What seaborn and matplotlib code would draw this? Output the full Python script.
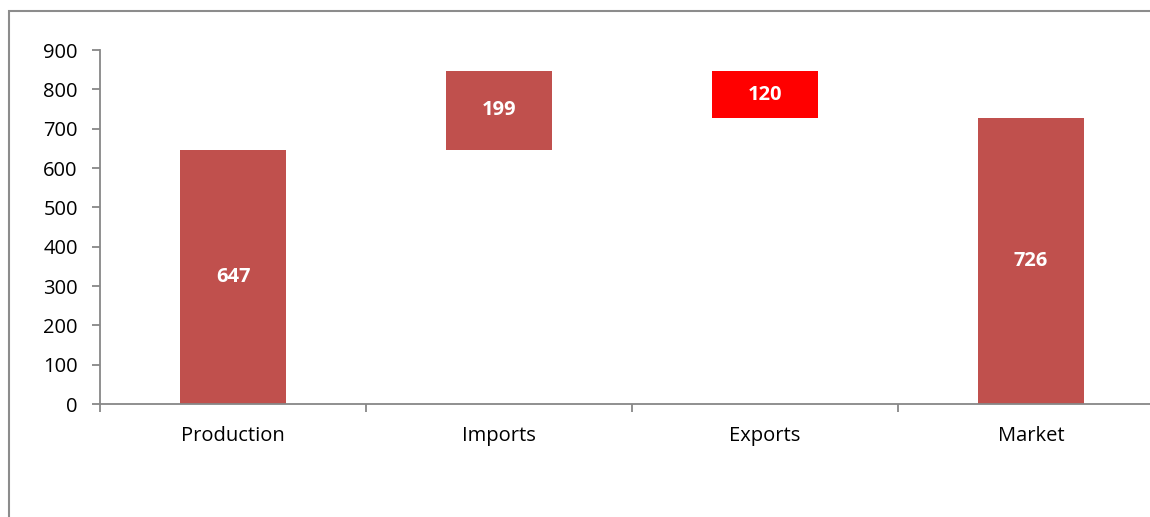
import matplotlib
matplotlib.use("Agg")
import matplotlib.pyplot as plt
from matplotlib.patches import Rectangle
from matplotlib.ticker import FixedLocator
import seaborn as sns
import pandas as pd

categories = ["Production", "Imports", "Exports", "Market"]
values = [647, 199, 120, 726]
bases = [0, 647, 726, 0]
bar_colors = ["#C0504D", "#C0504D", "#FF0000", "#C0504D"]
y_ticks = [0, 100, 200, 300, 400, 500, 600, 700, 800, 900]

sns.set_style("white")
plt.rcParams["font.family"] = ["Open Sans", "DejaVu Sans"]

W, H = 1150, 517
fig = plt.figure(figsize=(W / 100, H / 100), dpi=100)
left, right, top, bottom = 100, 1164, 50, 404
ax = fig.add_axes([left / W, 1 - bottom / H, (right - left) / W, (bottom - top) / H])

df = pd.DataFrame({"category": categories, "value": values})
sns.barplot(data=df, x="category", y="value", hue="category",
            palette=dict(zip(categories, bar_colors)), width=0.4,
            legend=False, ax=ax, saturation=1, linewidth=0)

for patch, base, val in zip(ax.patches, bases, values):
    patch.set_y(base)
    cx = patch.get_x() + patch.get_width() / 2
    ax.text(cx, base + val / 2, f"{val}", ha="center", va="center",
            color="white", fontsize=14.5, fontweight="bold")

ax.set_xlim(-0.5, 3.5)
ax.set_ylim(0, 900)
ax.set_yticks(y_ticks)
ax.set_xlabel("")
ax.set_ylabel("")

axis_color = "#878787"
for s in ["top", "right"]:
    ax.spines[s].set_visible(False)
for s in ["left", "bottom"]:
    ax.spines[s].set_color(axis_color)
    ax.spines[s].set_linewidth(1.3)

ax.tick_params(axis="y", which="major", direction="out", length=6, width=1.3,
               color=axis_color, pad=10, labelsize=14.5, labelcolor="black", left=True)
ax.tick_params(axis="x", which="major", length=0, pad=16, labelsize=14.5, labelcolor="black")
ax.xaxis.set_minor_locator(FixedLocator([-0.5, 0.5, 1.5, 2.5, 3.5]))
ax.tick_params(axis="x", which="minor", direction="out", length=6, width=1.3,
               color=axis_color, bottom=True)

border = Rectangle((9 / W, -0.2), 1.5, (1 - 11 / H) + 0.2, transform=fig.transFigure,
                   fill=False, edgecolor="#8C8C8C", linewidth=1.5, clip_on=False)
fig.patches.append(border)

fig.savefig("out.png", dpi=100, facecolor="white")
